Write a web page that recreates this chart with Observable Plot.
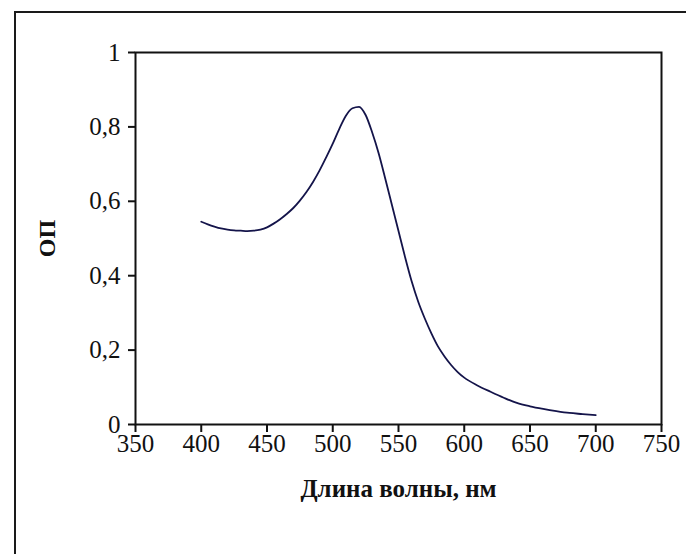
<!DOCTYPE html>
<html>
<head>
<meta charset="utf-8">
<script src="https://cdn.jsdelivr.net/npm/d3@7"></script>
<script src="https://cdn.jsdelivr.net/npm/@observablehq/plot@0.6"></script>
<style>
  html, body { margin: 0; padding: 0; background: #ffffff; }
  #wrap { position: relative; width: 686px; height: 554px; overflow: hidden; }
  #outer { position: absolute; left: 14px; top: 11px; width: 800px; height: 700px; border: 2px solid #1a1a1a; box-sizing: border-box; }
  #chart { position: absolute; left: 0; top: 0; }
  #chart svg g[aria-label*="tick label"], #chart svg g[aria-label*="tick label"] text { font-size: 25px !important; }
</style>
</head>
<body>
<div id="wrap"><div id="outer"></div><div id="chart"></div></div>
<script>
const wavelength = [400,405,410,415,420,425,430,435,440,445,450,455,460,465,470,475,480,485,490,495,500,505,510,515,520,525,530,535,540,545,550,555,560,565,570,575,580,585,590,595,600,610,620,630,640,650,660,670,680,690,700];
const od = [0.545,0.538,0.532,0.527,0.524,0.522,0.521,0.520,0.521,0.524,0.530,0.540,0.552,0.566,0.582,0.602,0.625,0.652,0.683,0.718,0.755,0.795,0.830,0.850,0.854,0.832,0.785,0.728,0.660,0.590,0.520,0.450,0.385,0.330,0.285,0.245,0.210,0.183,0.160,0.141,0.126,0.105,0.088,0.072,0.058,0.049,0.042,0.036,0.031,0.028,0.025];
const xTicks = [350,400,450,500,550,600,650,700,750];
const yTicks = [0,0.2,0.4,0.6,0.8,1];
const xLabel = "Длина волны, нм";
const yLabel = "ОП";

const data = wavelength.map((w, i) => ({w, v: od[i]}));
const fmt = d => String(d).replace(".", ",");
const font = "'Liberation Serif', 'Times New Roman', serif";

const chart = Plot.plot({
  width: 686,
  height: 554,
  marginLeft: 135,
  marginRight: 25,
  marginTop: 52,
  marginBottom: 130,
  style: { fontFamily: font, fontSize: "24px", background: "transparent", color: "#111" },
  x: { domain: [350, 750] },
  y: { domain: [0, 1] },
  marks: [
    Plot.frame({ stroke: "#111", strokeWidth: 2 }),
    Plot.axisX({ ticks: xTicks, tickSize: 8, tickPadding: 2, tickFormat: d => String(d), fontSize: 25, label: null, strokeWidth: 2 }),
    Plot.axisY({ ticks: yTicks, tickSize: 7, tickPadding: 8, tickFormat: fmt, fontSize: 25, label: null, strokeWidth: 2 }),
    Plot.line(data, { x: "w", y: "v", stroke: "#14144a", strokeWidth: 1.8, curve: "monotone-x" }),
    Plot.text([xLabel], { frameAnchor: "bottom", lineAnchor: "middle", textAnchor: "middle", dy: 64, fontWeight: "bold", fontSize: 25, fill: "#111" }),
    Plot.text([yLabel], { frameAnchor: "left", lineAnchor: "middle", textAnchor: "middle", dx: -88, rotate: -90, fontWeight: "bold", fontSize: 24, fill: "#111" })
  ]
});
document.getElementById("chart").appendChild(chart);
</script>
</body>
</html>
